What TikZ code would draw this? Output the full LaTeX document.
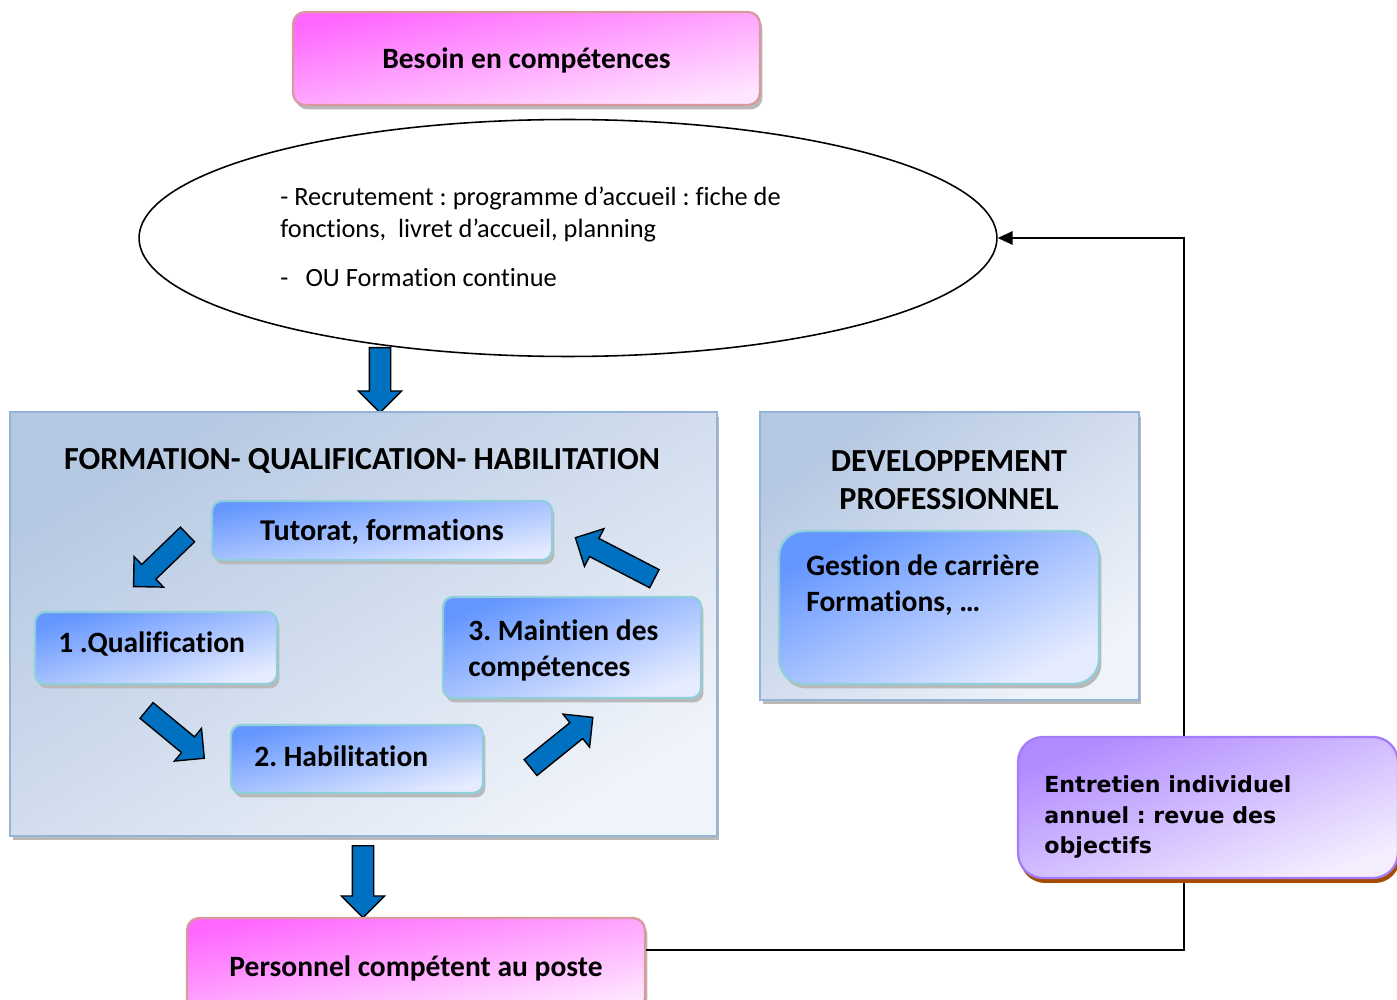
\documentclass[tikz,border=0pt]{standalone}
\usepackage{fontspec}
\setmainfont{Carlito}[Ligatures=NoCommon]
\newfontfamily\interviewfont{DejaVu Sans}
\usetikzlibrary{shapes.geometric,shapes.arrows,shadows,arrows.meta}
\frenchspacing

\definecolor{pinkA}{HTML}{FF66FF}
\definecolor{pinkB}{HTML}{FFE6FF}
\definecolor{pinkline}{HTML}{D89A9C}
\definecolor{panelA}{HTML}{B5C8E2}
\definecolor{panelB}{HTML}{EFF3FA}
\definecolor{panelline}{HTML}{95B3D7}
\definecolor{blueA}{HTML}{6496FF}
\definecolor{blueB}{HTML}{E6ECFF}
\definecolor{blueline}{HTML}{8FCFDB}
\definecolor{arrowblue}{HTML}{0070C0}
\definecolor{purpA}{HTML}{B08AFF}
\definecolor{purpB}{HTML}{F4EEFF}
\definecolor{purpline}{HTML}{A47CF7}
\definecolor{purpshadow}{HTML}{A64C00}

\begin{document}
\begin{tikzpicture}[x=0.02cm,y=-0.02cm,
  lbl/.style={font=\fontsize{16.8}{20.5}\selectfont\bfseries},
  head/.style={font=\fontsize{18.3}{21.6}\selectfont\bfseries},
  plain/.style={font=\fontsize{15}{18.2}\selectfont},
  greyshadow/.style={drop shadow={shadow xshift=0.05cm, shadow yshift=-0.09cm, fill=gray!55, opacity=1}},
  pinkbox/.style={draw=pinkline, line width=1.3pt, rounded corners=0.24cm,
    top color=pinkA, bottom color=pinkB, greyshadow, inner sep=0pt},
  panel/.style={draw=panelline, line width=1.3pt,
    top color=panelA, bottom color=panelB, greyshadow, inner sep=0pt},
  stepbox/.style={draw=blueline, line width=1.3pt, rounded corners=0.2cm,
    top color=blueA, bottom color=blueB, greyshadow, inner sep=0pt},
  blockarrow/.style={single arrow, draw=black, line width=0.8pt, fill=arrowblue,
    inner xsep=0pt, inner ysep=0.19cm, single arrow head extend=0.22cm, anchor=tail},
]
\useasboundingbox (0,0) rectangle (1397,1000);

% top box and ellipse
\node[pinkbox, shading angle=11, minimum width=9.34cm, minimum height=1.86cm] (need) at (526.5,58.5) {};
\node[lbl, inner sep=0pt] (needtext) at (526.5,60) {Besoin en compétences};
\node[ellipse, draw=black, line width=0.9pt, fill=white, inner sep=0pt,
      minimum width=17.16cm, minimum height=4.74cm] (ell) at (568,238) {};
\node[plain, align=left, anchor=west, inner sep=0pt] (elltext) at (280,237)
  {- Recrutement : programme d’accueil : fiche de\\
   fonctions,\ \ livret d’accueil, planning\\[9.5pt]
   -\hspace{0.65em}OU Formation continue};

\node[blockarrow, inner ysep=0.2cm, minimum height=1.3cm, rotate=-90] (down1) at (380,347) {};

% training panel
\node[panel, shading angle=31, minimum width=14.14cm, minimum height=8.48cm] (fqh) at (363.5,624) {};
\node[head, inner sep=0pt] (fqhtitle) at (362,461) {FORMATION- QUALIFICATION- HABILITATION};

\node[stepbox, shading angle=10, minimum width=6.8cm, minimum height=1.18cm] (tuto) at (382,530.5) {};
\node[lbl, font=\fontsize{17.2}{20.5}\selectfont\bfseries, inner sep=0pt] (tutotext) at (382,532) {Tutorat, formations};
\node[stepbox, shading angle=17, minimum width=4.84cm, minimum height=1.44cm] (qualif) at (156,648) {};
\node[lbl, anchor=west, inner sep=0pt] (qualiftext) at (58,644) {1 .Qualification};
\node[stepbox, shading angle=15, minimum width=5.04cm, minimum height=1.36cm] (habil) at (357,759) {};
\node[lbl, anchor=west, inner sep=0pt] (habiltext) at (254,756) {2. Habilitation};
\node[stepbox, shading angle=21, minimum width=5.16cm, minimum height=2.02cm] (maint) at (572,647.5) {};
\node[lbl, align=left, anchor=west, inner sep=0pt] (mainttext) at (468,650) {3. Maintien des\\compétences};

\node[blockarrow, minimum height=1.5cm, rotate=224] (arr1) at (188,534) {};
\node[blockarrow, minimum height=1.5cm, rotate=-39.6] (arr2) at (146,710) {};
\node[blockarrow, minimum height=1.6cm, rotate=38.9] (arr3) at (530,768) {};
\node[blockarrow, minimum height=1.78cm, rotate=152.6] (arr4) at (655,579) {};

% development panel
\node[panel, shading angle=37, minimum width=7.58cm, minimum height=5.76cm] (dev) at (949.5,556) {};
\node[head, align=center, inner sep=0pt] (devtitle) at (949,480) {DEVELOPPEMENT\\PROFESSIONNEL};
\node[stepbox, shading angle=26, rounded corners=0.5cm, minimum width=6.4cm, minimum height=3.06cm] (career) at (939,607.5) {};
\node[lbl, align=left, anchor=west, inner sep=0pt] (careertext) at (806,585) {Gestion de carrière\\Formations, …};

% result box
\node[blockarrow, inner ysep=0.2cm, minimum height=1.44cm, rotate=-90] (down2) at (363,845) {};
\node[pinkbox, shading angle=11, minimum width=9.16cm, minimum height=1.84cm] (pers) at (416,964) {};
\node[lbl, inner sep=0pt] (perstext) at (416,968) {Personnel compétent au poste};

% feedback loop
\coordinate (bend) at (1184,950);
\draw[line width=1pt, -{Triangle[length=0.3cm,width=0.27cm]}] (pers.east |- bend) -- (bend) |- (ell.east);

\node[draw=purpline, line width=1.3pt, rounded corners=0.5cm, top color=purpA, bottom color=purpB, shading angle=20,
      drop shadow={shadow xshift=0.04cm, shadow yshift=-0.1cm, fill=purpshadow, opacity=1},
      minimum width=7.6cm, minimum height=2.82cm, inner sep=0pt] (review) at (1208,807.5) {};
\node[align=left, anchor=west, inner sep=0pt, font=\interviewfont\fontsize{12.6}{17.6}\selectfont\bfseries] (reviewtext) at (1044,817)
  {Entretien individuel\\annuel : revue des\\objectifs};
\end{tikzpicture}
\end{document}
